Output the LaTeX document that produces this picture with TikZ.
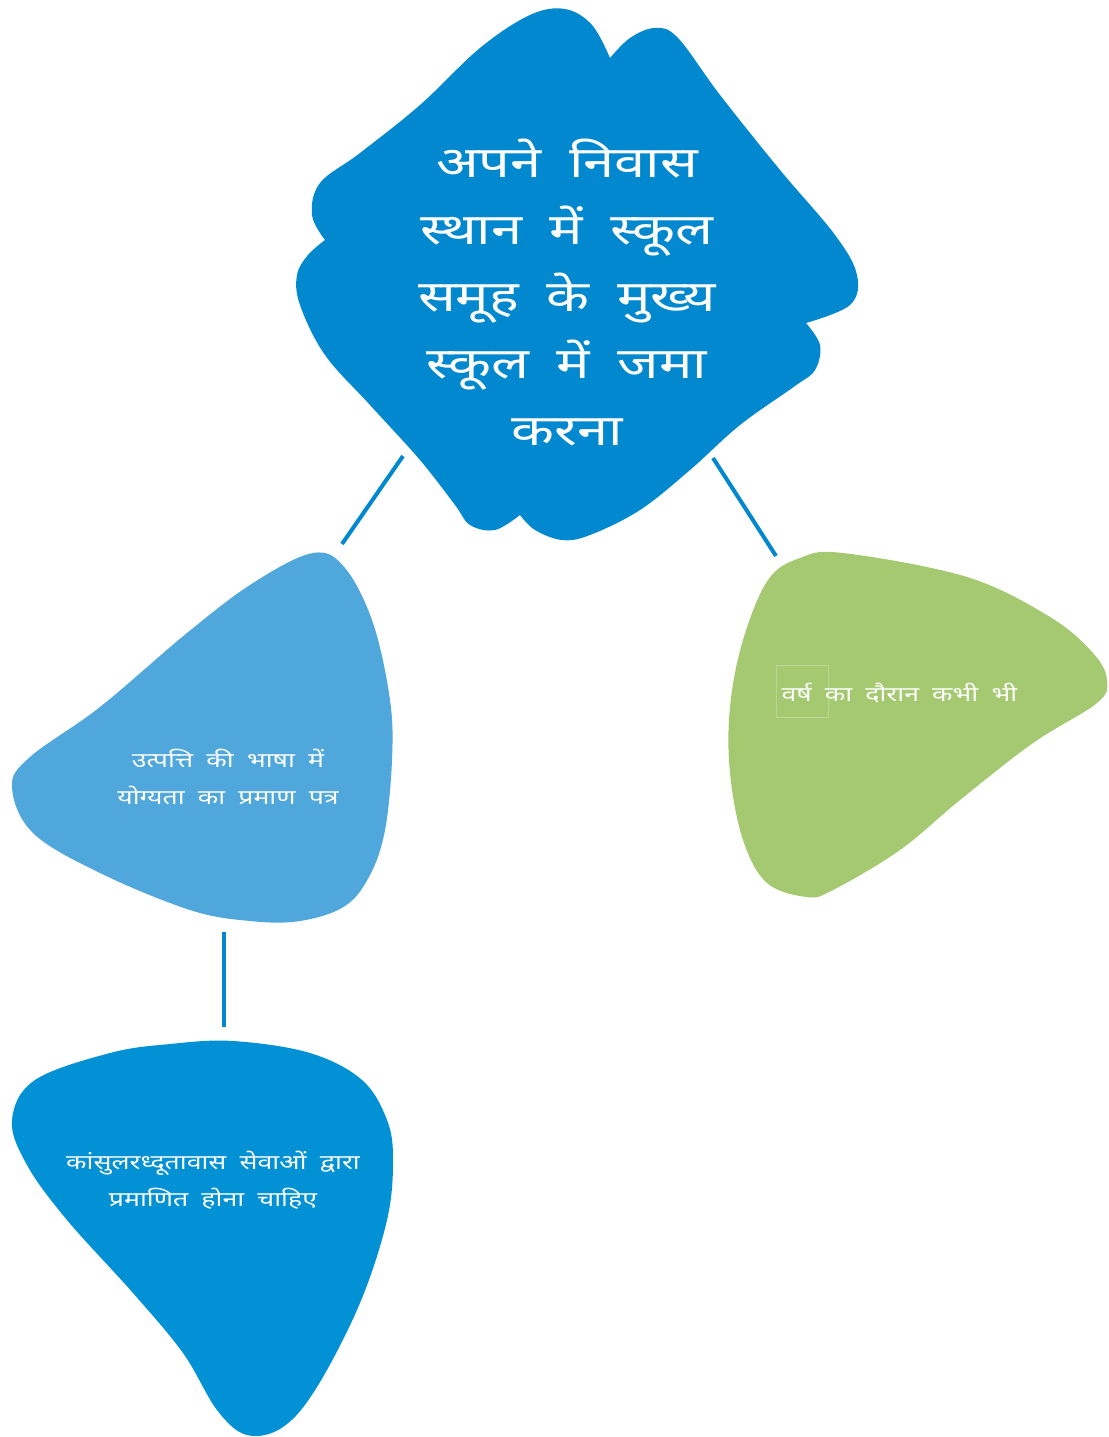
\documentclass[tikz,border=0pt]{standalone}
\usepackage{fontspec}
\newfontfamily\dev[Script=Devanagari,FakeStretch=1.3,WordSpace=1.9]{Noto Sans}
\definecolor{topblue}{HTML}{0288CE}
\definecolor{midblue}{HTML}{4FA7DB}
\definecolor{lowblue}{HTML}{0391D5}
\definecolor{leafgreen}{HTML}{A5C971}
\definecolor{boxgreen}{HTML}{BBD795}
\tikzset{
  conn/.style={draw=topblue,line width=4pt},
  blob/.style={smooth,tension=0.6},
  bigtext/.style={text=white,align=center,font=\dev\fontsize{43}{67}\selectfont},
  smalltext/.style={text=white,align=center,font=\dev\fontsize{20.5}{37}\selectfont},
}
\begin{document}
\begin{tikzpicture}[x=1pt,y=-1pt]
\useasboundingbox (0,0) rectangle (1108,1437);
% top blob
\fill[topblue] plot[blob] coordinates {(325,240) (312,215) (320,183) (360,153) (420,105) (480,48) (530,15) (565,9) (592,25) (610,58)}
 -- plot[blob] coordinates {(610,58) (630,38) (655,28) (678,38) (720,95) (780,170) (835,235) (857,275) (850,305) (806,323)}
 -- plot[blob] coordinates {(806,323) (820,345) (815,370) (795,386) (740,425) (690,470) (640,510) (590,535) (562,540) (535,530) (520,515)}
 -- plot[blob] coordinates {(520,515) (495,530) (470,525) (455,505) (420,460) (370,405) (325,355) (300,305) (297,275) (308,255) (325,240)} -- cycle;
% left middle blob
\fill[midblue] plot[smooth cycle,tension=0.6] coordinates {(313,553) (345,568) (373,623) (390,700) (392,760) (385,830) (370,875) (345,906) (300,921) (250,921) (190,910) (100,873) (33,833) (12,787) (30,757) (100,707) (187,633) (253,583)};
% green blob
\fill[leafgreen] plot[smooth cycle,tension=0.6] coordinates {(843,553) (967,577) (1050,617) (1093,653) (1107,680) (1097,703) (1033,743) (960,800) (900,850) (833,890) (807,897) (767,883) (743,840) (730,773) (730,707) (743,640) (768,580) (800,558)};
% bottom blob
\fill[lowblue] plot[smooth cycle,tension=0.6] coordinates {(233,1041) (310,1053) (362,1080) (387,1120) (393,1160) (387,1220) (360,1303) (317,1387) (283,1427) (247,1435) (217,1410) (183,1353) (133,1293) (67,1220) (27,1165) (12,1120) (35,1080) (110,1053) (170,1044)};
% texts
\node[bigtext] (main) at (567,292) {अपने निवास\\स्थान में स्कूल\\समूह के मुख्य\\स्कूल में जमा\\करना};
\node[smalltext] (lang) at (228,777) {उत्पत्ति की भाषा में\\योग्यता का प्रमाण पत्र};
\draw[boxgreen,line width=0.8pt] (776,665) rectangle (828,717);
\node[smalltext,anchor=west] (year) at (778,693) {वर्ष का दौरान कभी भी};
\node[smalltext] (consul) at (213,1180) {कांसुलरध्दूतावास सेवाओं द्वारा\\प्रमाणित होना चाहिए};
% connectors
\coordinate (c1a) at (403,456); \coordinate (c1b) at (342,544);
\coordinate (c2a) at (713,458); \coordinate (c2b) at (776,556);
\coordinate (c3a) at (224,932); \coordinate (c3b) at (224,1027);
\draw[conn] (c1a) -- (c1b);
\draw[conn] (c2a) -- (c2b);
\draw[conn] (c3a) -- (c3b);
\end{tikzpicture}
\end{document}
